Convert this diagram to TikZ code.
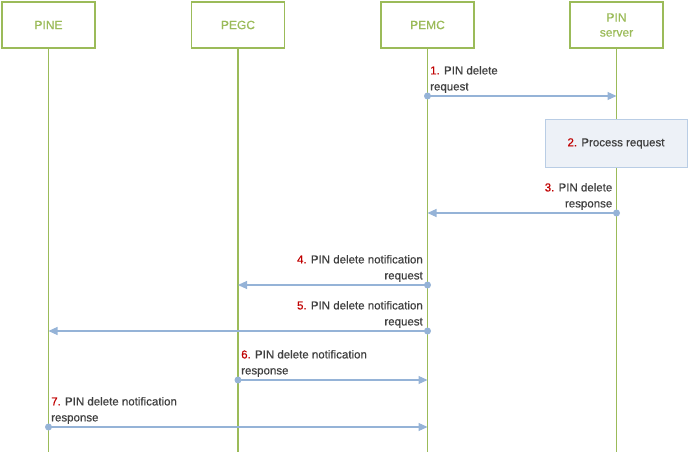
\documentclass[tikz,border=0pt]{standalone}
\usepackage{fontspec}
\setmainfont{Liberation Sans}
\newfontfamily\heavyfont[FakeBold=0.6]{Liberation Sans}
\usetikzlibrary{arrows.meta}
\definecolor{boxgreen}{HTML}{9BBB59}
\definecolor{msgblue}{HTML}{95B3D7}
\definecolor{procfill}{HTML}{EDF1F7}
\definecolor{procdraw}{HTML}{B9CDE5}
\definecolor{txtgray}{HTML}{404040}
\definecolor{numred}{HTML}{C00000}
\tikzset{
  actor/.style={draw=boxgreen, line width=1.8pt, minimum width=93pt, minimum height=46pt, inner sep=0pt, text=boxgreen, font=\heavyfont\fontsize{12}{15}\selectfont, align=center},
  lifeline/.style={draw=boxgreen, line width=1.8pt},
  msg/.style={draw=msgblue, line width=1.1pt, -{Triangle[length=9pt,width=8pt]}},
  dotstart/.style={fill=msgblue, circle, inner sep=0pt, minimum size=7pt},
  lbl/.style={text=txtgray, font=\heavyfont\fontsize{11.5}{16}\selectfont, inner sep=0pt},
  proc/.style={draw=procdraw, fill=procfill, line width=1pt, minimum width=142pt, minimum height=47pt, text=txtgray, font=\heavyfont\fontsize{11.5}{14}\selectfont, inner sep=0pt}
}
\newcommand{\nm}[1]{\textcolor{numred}{#1}}
\begin{document}
\begin{tikzpicture}[x=1pt,y=-1pt]
\useasboundingbox (0,0) rectangle (689,452);
\node[actor] (pine) at (48.5,25) {PINE};
\node[actor] (pegc) at (238,25) {PEGC};
\node[actor] (pemc) at (427.5,25) {PEMC};
\node[actor] (pins) at (616.5,25) {PIN\\server};
\coordinate (pineE) at (48.5,452);
\coordinate (pegcE) at (238,452);
\coordinate (pemcE) at (427.5,452);
\coordinate (pinsE) at (616.5,452);
\draw[lifeline] (pine.south) -- (pineE);
\draw[lifeline] (pegc.south) -- (pegcE);
\draw[lifeline] (pemc.south) -- (pemcE);
\draw[lifeline] (pins.south) -- (pinsE);

% 1
\node[dotstart] (a1) at (427.5,96) {};
\coordinate (b1) at (616.5,96);
\draw[msg] (a1.center) -- (b1);
\node[lbl, anchor=south west, align=left] (l1) at (430,93) {\nm{1.} PIN delete\\request};

% 2
\node[proc] (p2) at (616,143.5) {\nm{2.} Process request};

% 3
\node[dotstart] (a3) at (616.5,213) {};
\coordinate (b3) at (427.5,213);
\draw[msg] (a3.center) -- (b3);
\node[lbl, anchor=south east, align=right] (l3) at (612.5,210) {\nm{3.} PIN delete\\response};

% 4
\node[dotstart] (a4) at (427.5,285) {};
\coordinate (b4) at (238,285);
\draw[msg] (a4.center) -- (b4);
\node[lbl, anchor=south east, align=right] (l4) at (423,282) {\nm{4.} PIN delete notification\\request};

% 5
\node[dotstart] (a5) at (427.5,331) {};
\coordinate (b5) at (48.5,331);
\draw[msg] (a5.center) -- (b5);
\node[lbl, anchor=south east, align=right] (l5) at (423,328) {\nm{5.} PIN delete notification\\request};

% 6
\node[dotstart] (a6) at (238,380) {};
\coordinate (b6) at (427.5,380);
\draw[msg] (a6.center) -- (b6);
\node[lbl, anchor=south west, align=left] (l6) at (241,377) {\nm{6.} PIN delete notification\\response};

% 7
\node[dotstart] (a7) at (48.5,427) {};
\coordinate (b7) at (427.5,427);
\draw[msg] (a7.center) -- (b7);
\node[lbl, anchor=south west, align=left] (l7) at (51,424) {\nm{7.} PIN delete notification\\response};
\end{tikzpicture}
\end{document}
